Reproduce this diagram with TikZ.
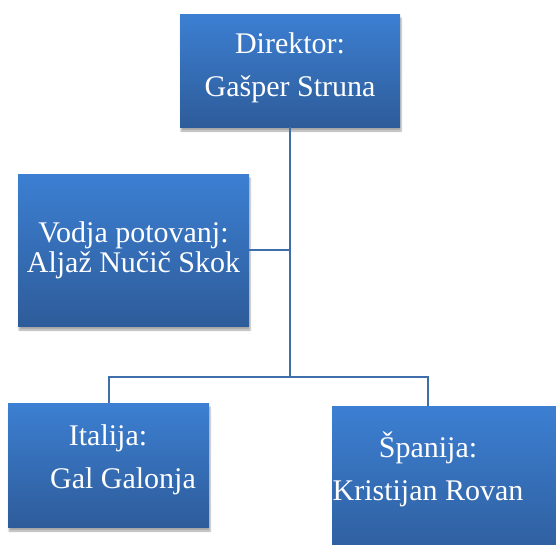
\documentclass[tikz,border=0pt]{standalone}
\usepackage{fontspec}
\usepackage{tikz}
\usetikzlibrary{shadows,shadows.blur}
\newfontfamily\orgfont{Liberation Serif}
\definecolor{boxtop}{HTML}{3C7FD2}
\definecolor{boxbottom}{HTML}{2E5C9A}
\definecolor{linkblue}{HTML}{3F6FAA}

\begin{document}
\begin{tikzpicture}[x=1pt, y=-1pt,
    orgbox/.style={rectangle, inner sep=0, top color=boxtop, bottom color=boxbottom,
      blur shadow={shadow xshift=1pt, shadow yshift=-4pt, shadow blur steps=5, shadow opacity=35}},
    orglbl/.style={text=white, align=center, inner sep=0, anchor=base,
      font=\orgfont\fontsize{30}{43}\selectfont},
    link/.style={draw=linkblue, line width=2pt}]
    \useasboundingbox (0,0) rectangle (556,544);
    % the four boxes of the chart, sized as in the original picture
    \node[orgbox, minimum width=220pt, minimum height=113pt] (dir) at (290,70.5) {};
    \node[orgbox, minimum width=231pt, minimum height=152pt] (lead) at (133.5,250) {};
    \node[orgbox, minimum width=201pt, minimum height=124pt] (ita) at (108.5,465) {};
    \node[orgbox, minimum width=240pt, minimum height=160pt, anchor=north west] (spa) at (332,406) {};
    % names (the base anchor sits on the last line)
    \node[orglbl] (dirlbl) at (290,96) {Direktor:\\Gašper Struna};
    \node[orglbl, font=\orgfont\fontsize{30}{30}\selectfont] (leadlbl) at (133.5,272) {Vodja potovanj:\\Aljaž Nučič Skok};
    \node[orglbl] (italbl) at (108,488) {Italija:\\\hspace*{30pt}Gal Galonja};
    \node[orglbl] (spalbl) at (428,500) {Španija:\\Kristijan Rovan};
    % tree lines: trunk from the director, branch to the guide, split to the two countries
    \coordinate (split) at (dir.south |- 0,377);
    \draw[link] (dir.south) -- (split);
    \draw[link] (lead.east) -- (lead.east -| split);
    \draw[link] (ita.north) |- (split) -| ([xshift=96pt]spa.north west);
  \end{tikzpicture}
\end{document}
